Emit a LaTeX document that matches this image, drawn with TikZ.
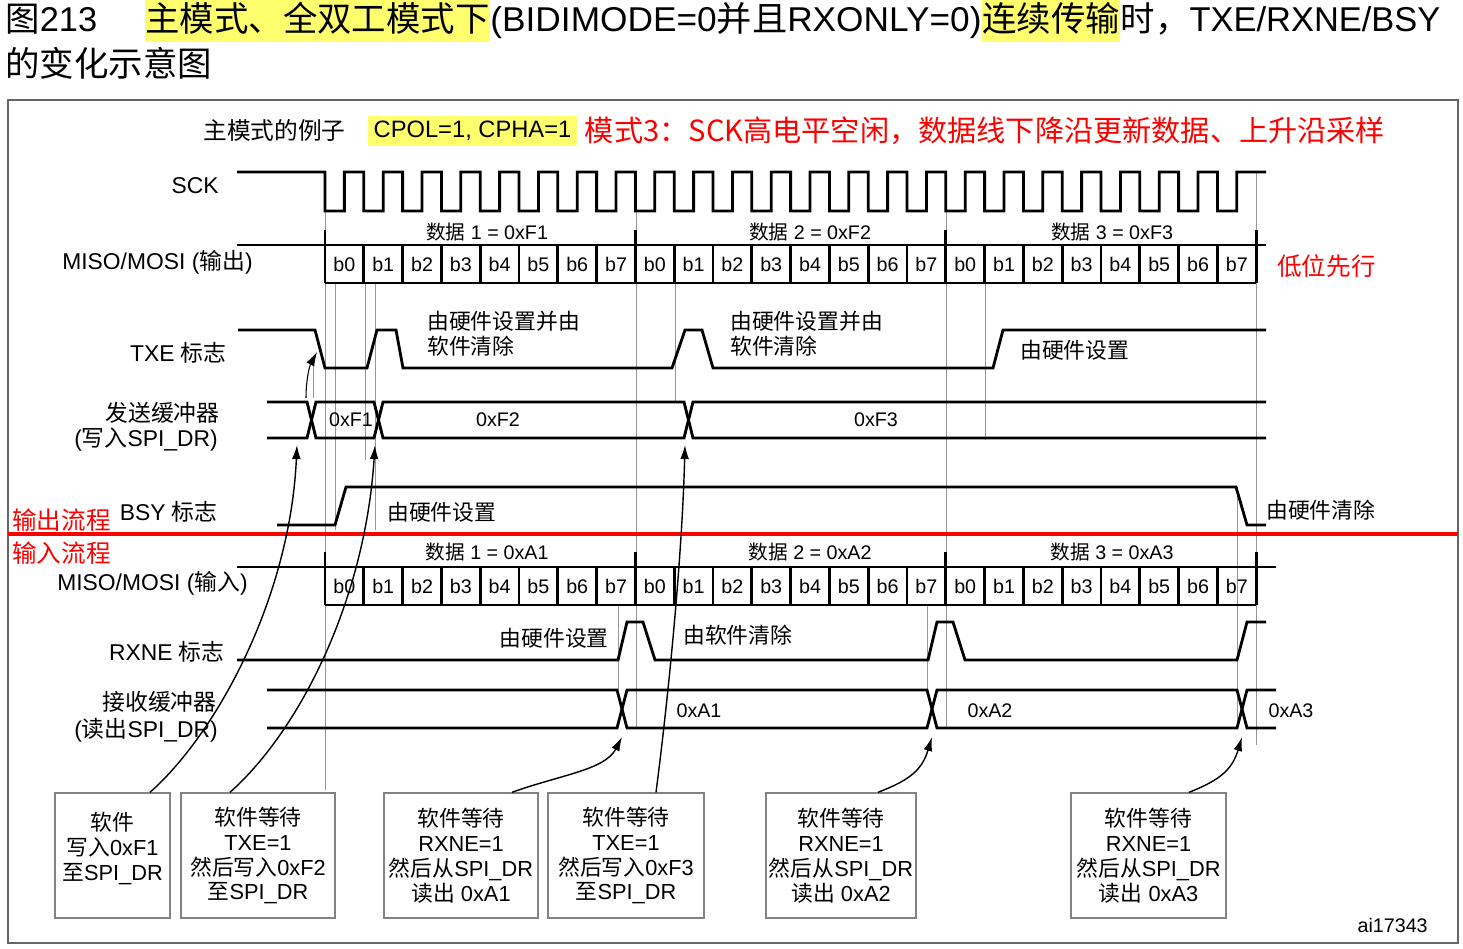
\documentclass[tikz,border=0pt]{standalone}
\usepackage{fontspec}
\setmainfont{Liberation Sans}
\newfontfamily\cjkfont{Noto Sans CJK SC}
\usepackage{tikz}
\usetikzlibrary{positioning, arrows.meta}
\definecolor{HLYellow}{RGB}{255,255,110}
\definecolor{NoteRed}{RGB}{255,0,0}
\definecolor{GuideGray}{RGB}{150,150,150}
\definecolor{BoxGray}{RGB}{130,130,130}
\newcommand{\zh}[1]{{\cjkfont #1}}
\newcommand{\fttl}{\fontsize{19.6pt}{24pt}\selectfont}
\newcommand{\fsub}{\fontsize{13.5pt}{16pt}\selectfont}
\newcommand{\fred}{\fontsize{16.6pt}{20pt}\selectfont}
\newcommand{\fside}{\fontsize{14pt}{16pt}\selectfont}
\newcommand{\fsig}{\fontsize{13pt}{14.2pt}\selectfont}
\newcommand{\fbit}{\fontsize{11.2pt}{13pt}\selectfont}
\newcommand{\fnote}{\fontsize{12.4pt}{14.2pt}\selectfont}

\begin{document}
\begin{tikzpicture}[x=0.02cm, y=-0.02cm,
          ttl/.style={font=\fttl, inner xsep=0pt, inner ysep=2pt,
                      text height=0.6cm, text depth=0.14cm},
          hl/.style={fill=HLYellow},
          sig/.style={line width=1.6pt, line join=miter},
          guide/.style={GuideGray, line width=0.5pt},
          lbl/.style={font=\fsig, anchor=east, inner sep=0pt},
          note/.style={font=\fnote\cjkfont, align=left, inner sep=0pt},
          bitlbl/.style={font=\fbit, inner sep=0pt},
          side/.style={font=\fside\cjkfont, text=NoteRed, anchor=west,
                       inner sep=0pt},
          swbox/.style={draw=BoxGray, line width=0.8pt, minimum height=2.5cm,
                        align=center, font=\fnote, inner sep=0pt},
          arr/.style={line width=0.8pt, -{Latex[length=8pt,width=5pt]}}
        ]
        \useasboundingbox (0,0) rectangle (1463,949);

        % Caption above the frame
        \node[ttl, anchor=west] (fig) at (5,20) {\zh{图}213};
        \node[ttl, hl, anchor=west] (t1) at (145,20) {\zh{主模式、全双工模式下}};
        \node[ttl, right=0pt of t1] (t2)
              {\scalebox{1.024}[1]{(BIDIMODE=0\zh{并且}RXONLY=0)}};
        \node[ttl, hl, right=0pt of t2] (t3) {\zh{连续传输}};
        \node[ttl, right=0pt of t3] (t4) {\zh{时，}TXE/RXNE/BSY};
        \node[ttl, anchor=west] (t5) at (5,65) {\zh{的变化示意图}};

        \draw[line width=1.2pt, black!60] (8,100) rectangle (1458,943);

        % Mode line
        \node[font=\fsub, anchor=west, inner sep=0pt] (ex) at (203,130)
              {\zh{主模式的例子}};
        \node[font=\fsub, hl, anchor=west, inner xsep=3pt, inner ysep=2.5pt,
              text height=10pt, text depth=2.5pt] (cp) at (368,131)
              {CPOL=1, CPHA=1};
        \node[font=\fred\cjkfont, text=NoteRed, right=1pt of cp] (mode)
              {模式3：SCK高电平空闲，数据线下降沿更新数据、上升沿采样};

        % Guide lines
        \foreach \x/\ya/\yb in {325/211/790, 335/283/530, 365/283/460,
          375/283/530, 313/357/398, 636/172/728, 675/283/402, 946/172/728,
          985/283/440, 1256/172/745, 1237/487/728, 618/605/690, 927/605/690} {
          \draw[guide] (\x,\ya) -- (\x,\yb);
        }

        % Signal names
        \node[lbl] (lSCK) at (219,186) {SCK};
        \node[lbl] (lMo) at (253,262) {MISO/MOSI (\zh{输出})};
        \node[lbl] (lTXE) at (227,353) {TXE \zh{标志}};
        \node[lbl] (lTB1) at (220,413) {\zh{发送缓冲器}};
        \node[lbl] (lTB2) at (218,440) {(\zh{写入}SPI\_DR)};
        \node[lbl] (lBSY) at (218,512) {BSY \zh{标志}};
        \node[lbl] (lMi) at (248,583) {MISO/MOSI (\zh{输入})};
        \node[lbl] (lRX) at (225,652) {RXNE \zh{标志}};
        \node[lbl] (lRB1) at (217,702) {\zh{接收缓冲器}};
        \node[lbl] (lRB2) at (218,730) {(\zh{读出}SPI\_DR)};

        \node[side] (outflow) at (12,520) {输出流程};
        \node[side] (inflow) at (12,553) {输入流程};
        \node[side] (lsb) at (1277,266) {低位先行};

        % SCK
        \draw[sig] (237,172) -- (325,172)
          foreach \k in {0,...,23} { -- ({325+\k*38.8},211) -- ++(19.4,0)
          -- ++(0,-39) -- ++(19.4,0) } -- (1266,172);

        % MISO/MOSI bit cells (output, input)
        \foreach \yy/\xe in {245/1266, 567/1276} {
          \draw[sig] (237,\yy) -- (\xe,\yy);
          \draw[sig] (325,\yy+38) -- (1256.2,\yy+38);
          \foreach \k in {0,...,24}
            \draw[sig] ({325+\k*38.8},\yy) -- ++(0,38);
          \foreach \k in {0,8,16,24}
            \draw[sig] ({325+\k*38.8},\yy-15) -- ++(0,15);
        }
        \foreach \k [evaluate=\k as \bb using {int(mod(\k,8))}] in {0,...,23} {
          \node[bitlbl] (o\k) at ({344.4+\k*38.8},264) {b\bb};
          \node[bitlbl] (i\k) at ({344.4+\k*38.8},586) {b\bb};
        }
        \foreach \n/\cx/\v in {1/487/F1, 2/810/F2, 3/1112/F3}
          \node[bitlbl] (dO\n) at (\cx,232) {\zh{数据} \n{} = 0x\v};
        \foreach \n/\cx/\v in {1/487/A1, 2/810/A2, 3/1112/A3}
          \node[bitlbl] (dI\n) at (\cx,552) {\zh{数据} \n{} = 0x\v};

        % TXE
        \draw[sig] (238,330) -- (315,330) -- (325,368) -- (367,368)
          -- (377,330) -- (396,330) -- (403,368) -- (672,368) -- (685,330)
          -- (702,330) -- (713,368) -- (993,368) -- (1003,330) -- (1266,330);
        \node[note, anchor=west] (nT1) at (427,334) {由硬件设置并由\\软件清除};
        \node[note, anchor=west] (nT2) at (730,334) {由硬件设置并由\\软件清除};
        \node[note, anchor=west] (nT3) at (1020,350) {由硬件设置};

        % Tx buffer
        \draw[sig] (267,402) -- (307,402) -- (316,438) -- (374,438)
          -- (383,402) -- (684,402) -- (693,438) -- (1266,438);
        \draw[sig] (267,438) -- (307,438) -- (316,402) -- (374,402)
          -- (383,438) -- (684,438) -- (693,402) -- (1266,402);
        \node[bitlbl] (vF1) at (351,420) {0xF1};
        \node[bitlbl] (vF2) at (498,420) {0xF2};
        \node[bitlbl] (vF3) at (876,420) {0xF3};

        % BSY
        \draw[sig] (277,525) -- (335,525) -- (346,487) -- (1236,487)
          -- (1247,525) -- (1266,525);
        \node[note, anchor=west] (nB1) at (387,512) {由硬件设置};
        \node[note, anchor=west] (nB2) at (1266,510) {由硬件清除};

        \draw[NoteRed, line width=2.8pt] (8,534) -- (1458,534);

        % RXNE
        \draw[sig] (237,660) -- (618,660) -- (627,622) -- (643,622)
          -- (655,660) -- (928,660) -- (937,622) -- (953,622) -- (965,660)
          -- (1237,660) -- (1247,622) -- (1266,622);
        \node[note, anchor=east] (nR1) at (609,638) {由硬件设置};
        \node[note, anchor=west] (nR2) at (683,635) {由软件清除};

        % Rx buffer
        \draw[sig] (267,690) -- (617,690) -- (627,728) -- (927,728)
          -- (937,690) -- (1237,690) -- (1247,728) -- (1276,728);
        \draw[sig] (267,728) -- (617,728) -- (627,690) -- (927,690)
          -- (937,728) -- (1237,728) -- (1247,690) -- (1276,690);
        \node[bitlbl] (vA1) at (699,711) {0xA1};
        \node[bitlbl] (vA2) at (990,711) {0xA2};
        \node[bitlbl] (vA3) at (1291,711) {0xA3};

        % Software steps
        \node[swbox, minimum width=2.3cm] (b1) at (112.5,855.5)
              {\zh{软件}\\\zh{写入}0xF1\\\zh{至}SPI\_DR\\[-4pt]\mbox{}};
        \node[swbox, minimum width=3.08cm] (b2) at (258,855.5)
              {\zh{软件等待}\\TXE=1\\\zh{然后写入}0xF2\\\zh{至}SPI\_DR};
        \node[swbox, minimum width=3.08cm] (b3) at (461,855.5)
              {\zh{软件等待}\\RXNE=1\\\zh{然后从}SPI\_DR\\\zh{读出} 0xA1};
        \node[swbox, minimum width=3.12cm] (b4) at (626,855.5)
              {\zh{软件等待}\\TXE=1\\\zh{然后写入}0xF3\\\zh{至}SPI\_DR};
        \node[swbox, minimum width=3.0cm] (b5) at (841,855.5)
              {\zh{软件等待}\\RXNE=1\\\zh{然后从}SPI\_DR\\\zh{读出} 0xA2};
        \node[swbox, minimum width=3.1cm] (b6) at (1148.5,855.5)
              {\zh{软件等待}\\RXNE=1\\\zh{然后从}SPI\_DR\\\zh{读出} 0xA3};
        \node[bitlbl, anchor=east] (fid) at (1428,925) {ai17343};

        % Arrows to the buffers
        \coordinate (wF1) at (297,445);
        \coordinate (wF2) at (375,445);
        \coordinate (wF3) at (685,445);
        \coordinate (rA1) at (622,737);
        \coordinate (rA2) at (932,737);
        \coordinate (rA3) at (1242,737);
        \coordinate (xF1) at (306,398);
        \coordinate (txe0) at (317,352);
        \draw[arr] ([xshift=0.75cm]b1.north) .. controls (215,735) and (290,600) .. (wF1);
        \draw[arr] ([xshift=-0.56cm]b2.north) .. controls (300,730) and (365,600) .. (wF2);
        \draw[arr] ([xshift=1.02cm]b3.north) .. controls (560,775) and (605,770) .. (rA1);
        \draw[arr] ([xshift=0.6cm]b4.north) .. controls (668,700) and (682,560) .. (wF3);
        \draw[arr] ([xshift=0.74cm]b5.north) .. controls (910,780) and (922,770) .. (rA2);
        \draw[arr] ([xshift=0.81cm]b6.north) .. controls (1220,780) and (1232,770) .. (rA3);
        \draw[arr, line width=0.6pt] (xF1) .. controls (306,378) and (310,365) .. (txe0);
      \end{tikzpicture}
\end{document}
